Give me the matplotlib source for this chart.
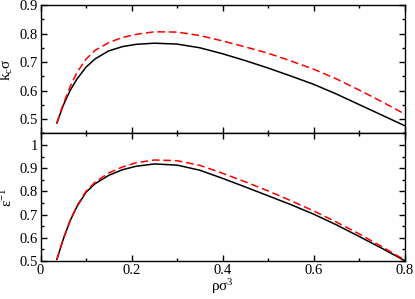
import numpy as np
import matplotlib
matplotlib.use("Agg")
import matplotlib.pyplot as plt
from matplotlib.ticker import MultipleLocator, FormatStrFormatter

plt.rcParams['font.family'] = ['Liberation Serif', 'DejaVu Serif']
plt.rcParams['mathtext.default'] = 'regular'
plt.rcParams['font.size'] = 10

# density values (rho sigma^3)
rho = [0.036, 0.05, 0.065, 0.08, 0.1, 0.12, 0.15, 0.18, 0.21, 0.25, 0.3,
       0.35, 0.4, 0.45, 0.5, 0.55, 0.6, 0.65, 0.7, 0.75, 0.8]
# k_c sigma, black solid
kc_black = [0.486, 0.548, 0.600, 0.640, 0.682, 0.711, 0.739, 0.754, 0.762, 0.766, 0.763,
            0.750, 0.729, 0.705, 0.679, 0.651, 0.622, 0.588, 0.551, 0.514, 0.477]
# k_c sigma, red dashed
kc_red = [0.486, 0.553, 0.613, 0.663, 0.710, 0.741, 0.768, 0.786, 0.797, 0.806, 0.805,
          0.793, 0.774, 0.753, 0.731, 0.704, 0.675, 0.641, 0.602, 0.561, 0.518]
# inverse dielectric constant, black solid
eps_black = [0.507, 0.594, 0.673, 0.734, 0.796, 0.833, 0.869, 0.893, 0.908, 0.918, 0.913,
             0.891, 0.856, 0.819, 0.781, 0.743, 0.702, 0.656, 0.606, 0.555, 0.502]
# inverse dielectric constant, red dashed
eps_red = [0.507, 0.594, 0.674, 0.737, 0.800, 0.840, 0.879, 0.905, 0.923, 0.935, 0.932,
           0.912, 0.878, 0.841, 0.802, 0.760, 0.716, 0.668, 0.617, 0.562, 0.505]

fig = plt.figure(figsize=(4.15, 2.99), dpi=100)
left, right = 0.0976, 0.9747
ax1 = fig.add_axes([left, 0.5542, right - left, 0.9833 - 0.5542])
ax2 = fig.add_axes([left, 0.1271, right - left, 0.5542 - 0.1271])

ax1.plot(rho, kc_black, color='black', lw=1.1)
ax1.plot(rho, kc_red, color='red', lw=1.1, dashes=(5, 2.5))
ax2.plot(rho, eps_black, color='black', lw=1.1)
ax2.plot(rho, eps_red, color='red', lw=1.1, dashes=(5, 2.5))

ax1.set_xlim(0, 0.8)
ax1.set_ylim(0.45, 0.9)
ax2.set_xlim(0, 0.8)
ax2.set_ylim(0.5, 1.05)

for ax in (ax1, ax2):
    ax.xaxis.set_major_locator(MultipleLocator(0.2))
    ax.xaxis.set_minor_locator(MultipleLocator(0.1))
    ax.yaxis.set_major_locator(MultipleLocator(0.1))
    ax.yaxis.set_minor_locator(MultipleLocator(0.05))
    ax.xaxis.set_major_formatter(FormatStrFormatter('%g'))
    ax.yaxis.set_major_formatter(FormatStrFormatter('%g'))
    ax.tick_params(which='both', direction='in', top=True, right=True, width=1.0)
    ax.tick_params(which='major', length=4, pad=2, labelsize=10.5)
    ax.tick_params(which='minor', length=2.2)
    for s in ax.spines.values():
        s.set_linewidth(1.0)

ax1.tick_params(labelbottom=False)
ax1.set_ylabel(r'$k_c\sigma$', fontsize=11, labelpad=3)
ax2.set_ylabel(r'$\epsilon^{-1}$', fontsize=11, labelpad=3)
ax2.set_xlabel(r'$\rho\sigma^{3}$', fontsize=11, labelpad=0)

fig.savefig('out.png', dpi=100)
